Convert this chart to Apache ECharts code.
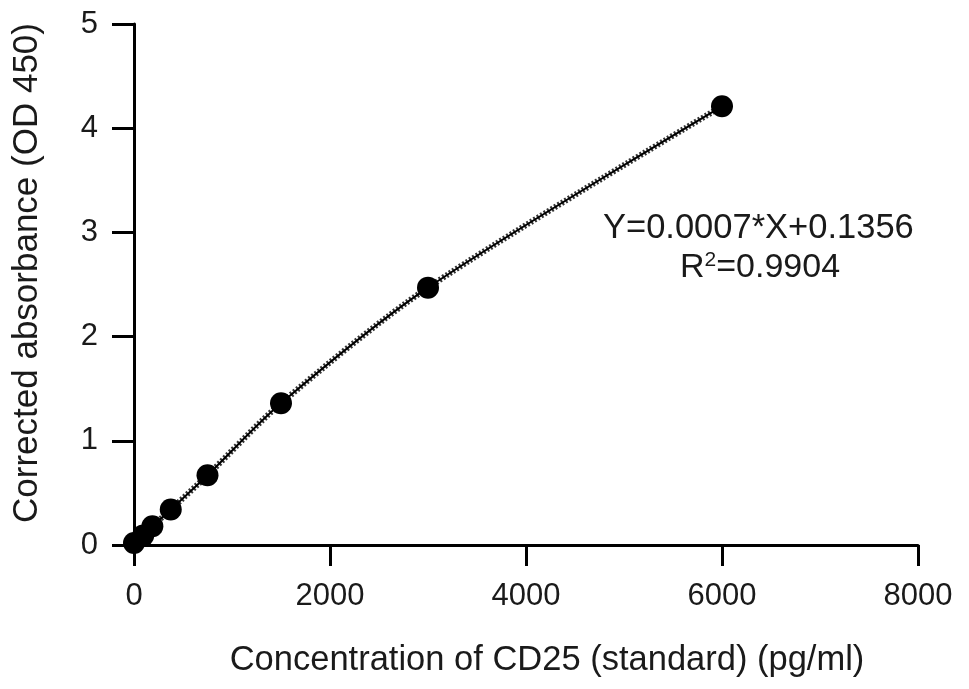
<!DOCTYPE html>
<html><head><meta charset="utf-8">
<script src="https://cdn.jsdelivr.net/npm/echarts@6/dist/echarts.min.js"></script>
<style>html,body{margin:0;padding:0;background:#fff}#c{width:969px;height:689px}</style>
</head><body><div id="c"></div>
<script>
var concentrations = [0, 93.75, 187.5, 375, 750, 1500, 3000, 6000];
var absorbance = [0.02, 0.09, 0.18, 0.34, 0.67, 1.36, 2.47, 4.21];
var xTicks = [0, 2000, 4000, 6000, 8000];
var yTicks = [0, 1, 2, 3, 4, 5];
var xTitle = 'Concentration of CD25 (standard) (pg/ml)';
var yTitle = 'Corrected absorbance (OD 450)';
var equationText = 'Y=0.0007*X+0.1356';
var r2Text = '0.9904';

var pts = concentrations.map(function(x, i){ return [x, absorbance[i]]; });
var font = '"Liberation Sans", Arial, Helvetica, sans-serif';
var chart = echarts.init(document.getElementById('c'));
chart.setOption({
  animation: false,
  backgroundColor: '#fff',
  grid: {left: 134, right: 51, top: 24, bottom: 144},
  xAxis: {
    type: 'value', min: xTicks[0], max: xTicks[xTicks.length-1], interval: xTicks[1]-xTicks[0],
    axisLine: {show: true, lineStyle: {color: '#000', width: 3}},
    axisTick: {show: true, length: 21, lineStyle: {color: '#000', width: 3}},
    axisLabel: {fontSize: 31, color: '#1a1a1a', fontFamily: font, margin: 36,
      formatter: function(v){ return String(v); }},
    splitLine: {show: false}
  },
  yAxis: {
    type: 'value', min: yTicks[0], max: yTicks[yTicks.length-1], interval: 1,
    axisLine: {show: true, lineStyle: {color: '#000', width: 3}},
    axisTick: {show: true, length: 22, lineStyle: {color: '#000', width: 3}},
    axisLabel: {fontSize: 31, color: '#1a1a1a', fontFamily: font, margin: 36,
      formatter: function(v){ return String(v); }},
    splitLine: {show: false}
  },
  series: [
    {type: 'line', data: pts, smooth: 0.3, symbol: 'none',
     lineStyle: {color: '#333', width: 6, type: [2, 2]}, z: 1},
    {type: 'line', data: pts, smooth: 0.3, symbol: 'none',
     lineStyle: {color: '#000', width: 2}, z: 2},
    {type: 'scatter', data: pts, symbol: 'circle', symbolSize: 22,
     itemStyle: {color: '#000', opacity: 1}, z: 3}
  ],
  graphic: [
    {type: 'text', x: 547, y: 660, style: {text: xTitle, font: '34.5px ' + font, fill: '#1a1a1a', align: 'center', verticalAlign: 'middle'}},
    {type: 'text', x: 27, y: 273, rotation: Math.PI/2, style: {text: yTitle, font: '35px ' + font, fill: '#1a1a1a', align: 'center', verticalAlign: 'middle'}},
    {type: 'text', left: 603, top: 211, style: {text: equationText, font: '34.5px ' + font, fill: '#1a1a1a'}},
    {type: 'text', left: 680, top: 250, style: {
      text: '{n|R}{s|2}{n|=' + r2Text + '}',
      rich: {
        n: {fontSize: 34, fontFamily: font, fill: '#1a1a1a', color: '#1a1a1a', verticalAlign: 'bottom'},
        s: {fontSize: 21, fontFamily: font, fill: '#1a1a1a', color: '#1a1a1a', verticalAlign: 'top', padding: [0,0,14,0]}
      }
    }}
  ]
});
</script></body></html>
